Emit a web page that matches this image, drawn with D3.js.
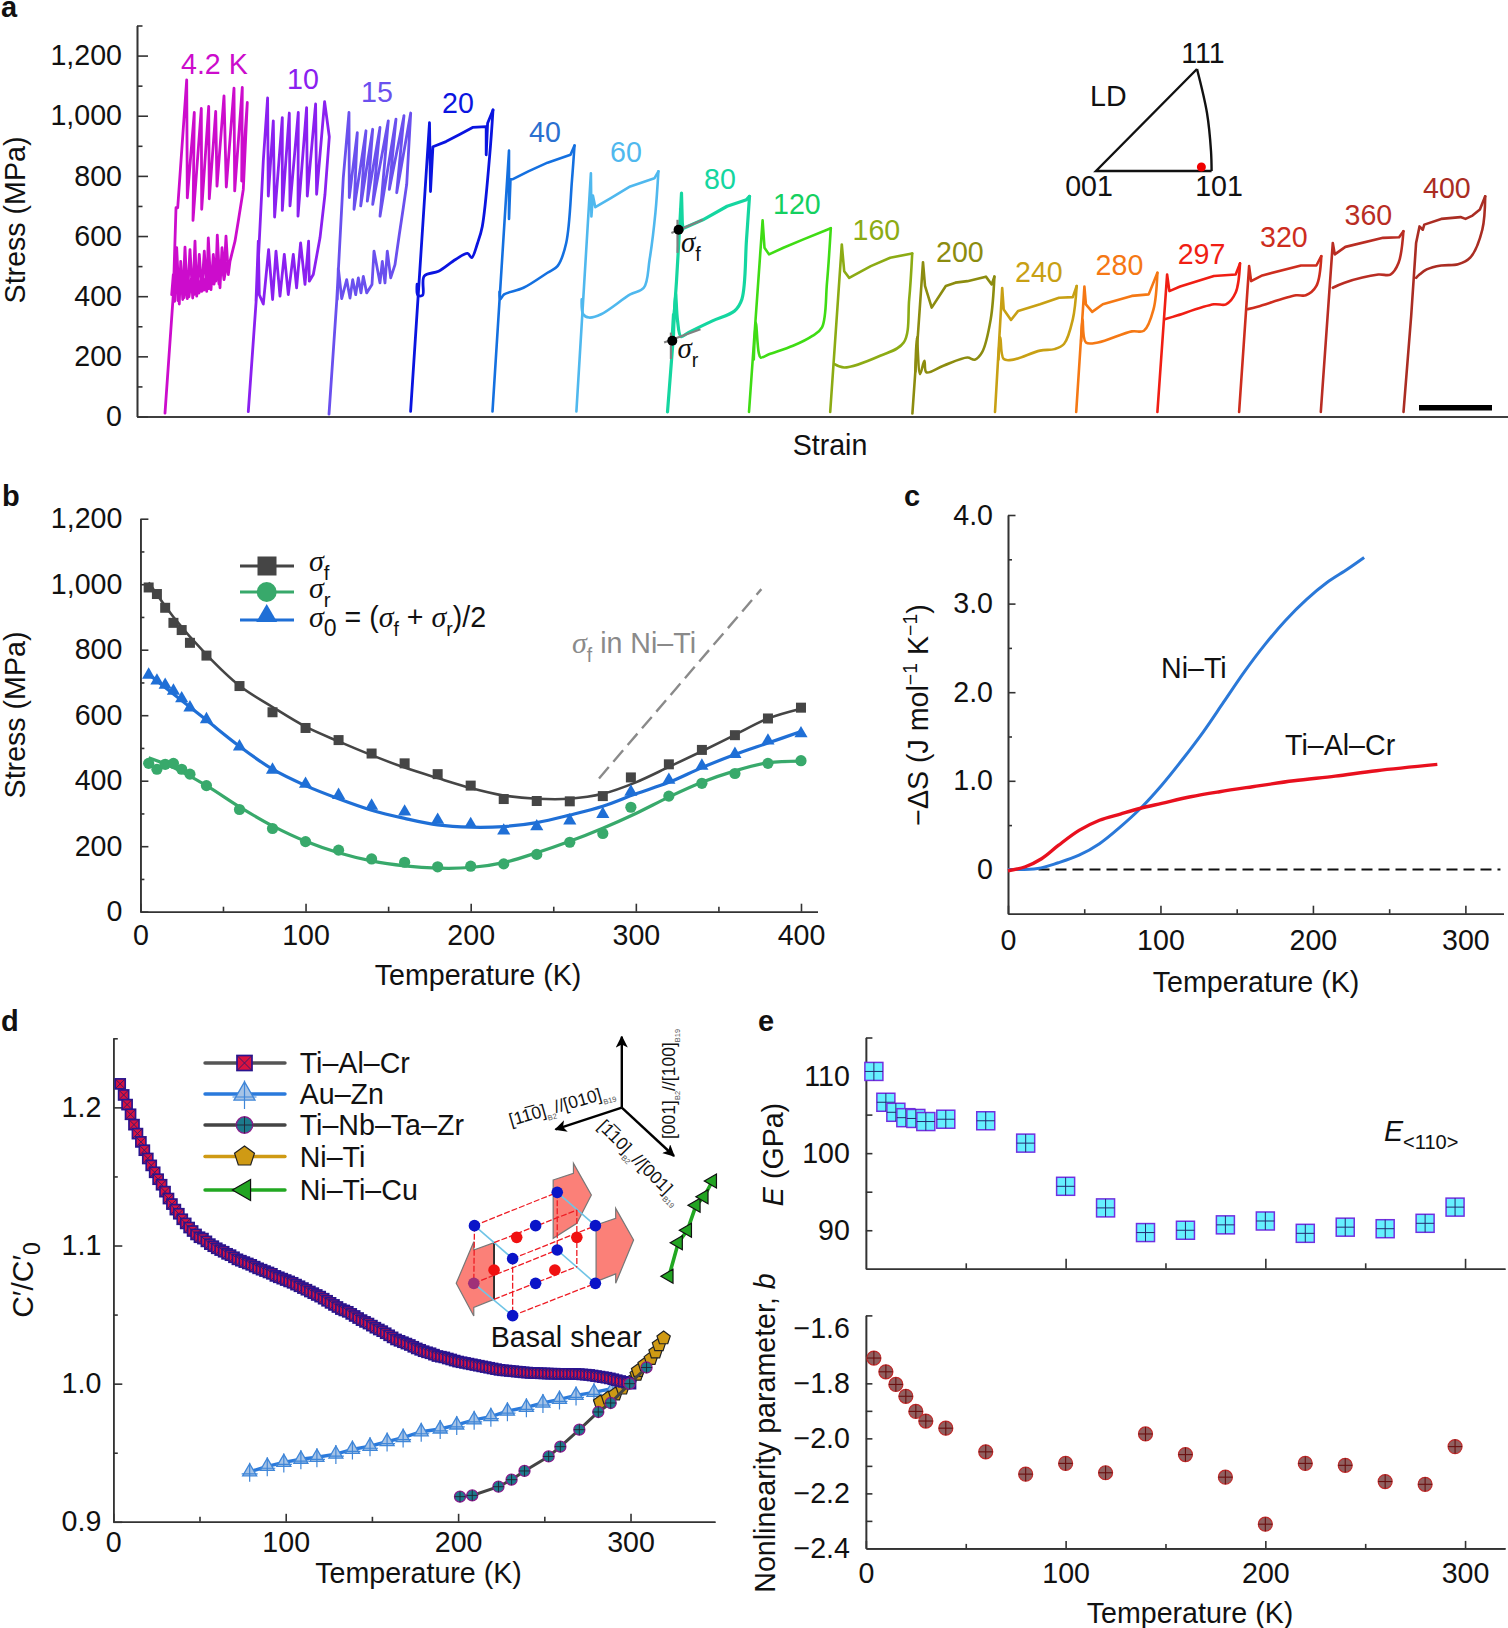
<!DOCTYPE html>
<html>
<head>
<meta charset="utf-8">
<script src="https://cdn.jsdelivr.net/npm/d3@7"></script>
<style>
  body { margin: 0; background: #fff; }
  text { font-family: "Liberation Sans", Arial, sans-serif; fill: #111; }
  .axis path, .axis line { stroke: #333; stroke-width: 1.6; }
  .axis text { font-family: "Liberation Sans", Arial, sans-serif; font-size: 28.6px; fill: #111; }
</style>
</head>
<body>
<div id="chart"></div>
<script>
/** DATA, panel a: strain (arbitrary units, the axis has no ticks) and stress (MPa) */
const loopLabels = ["4.2 K", "10", "15", "20", "40", "60", "80", "120", "160", "200", "240", "280", "297", "320", "360", "400"];
const loopColors = ["#cc0ccc", "#8a20f0", "#6a50ee", "#0a14e0", "#1470e0", "#4fb8ee", "#14d6a0", "#3fdc14", "#8cab14", "#8c8c0f", "#c8a014", "#f57814", "#f01e14", "#cd2d1e", "#b92d23", "#aa2d23"];
const labelColors = ["#cc0ccc", "#8a20f0", "#6a50ee", "#0a14e0", "#2a70d0", "#4fb8ee", "#14d6a0", "#14d060", "#8cab14", "#8c8c0f", "#c8a014", "#f57814", "#f01e14", "#cd2d1e", "#b92d23", "#aa2d23"];
const loopStart = [28, 111.3, 192, 273.6, 355.5, 439.4, 530.5, 612, 693.2, 775.4, 858, 939.2, 1020.4, 1102.1, 1183.8, 1266.5];

const curve4K = [[0,11],[8.3,405],[11,694],[12.7,694],[21.7,1119],[22.3,727],[29.3,1011],[28,652],[36.3,1024],[36.7,689],[43.7,1031],[44.3,724],[50.7,1014],[52,766],[59,1066],[61.3,763],[69,1092],[69.7,750],[77.3,1094],[76.7,783],[82.3,1044],[78.3,755],[73.3,650],[70,583],[65,516],[63.3,472],[61,600],[59,472],[57,561],[55,428],[52.3,603],[50.7,450],[48.3,539],[46,422],[43.3,594],[41.7,416],[39.3,550],[36.7,416],[34.3,539],[31.7,400],[30,583],[27.7,394],[25,555],[22.3,392],[20,563],[17.7,389],[15.7,516],[14.3,374],[11.7,561],[9.7,383],[8.3,472],[6.7,405],[12,500],[13,385],[16,470],[19,395],[22,470],[24,398],[27,475],[29,405],[32,480],[34,410],[37,485],[39,420],[42,490],[44,425],[47,495],[49,440],[52,500],[54,440],[57,505],[59,455],[62,510]];
const curve10 = [[0,16],[8.3,405],[15,850],[19.3,1059],[20,733],[25,983],[26.3,663],[34,994],[34,685],[41,1009],[41.7,700],[50,1011],[49.7,666],[58.3,1027],[59,733],[67.3,1039],[68.3,739],[76.3,1047],[81,930],[76.7,739],[71.7,594],[65,472],[61,450],[60.3,583],[56.7,439],[52.3,577],[48.3,428],[45,539],[40,405],[36,539],[31.7,400],[27.7,550],[24.3,389],[20.3,555],[15,374],[11,405],[10,583],[7.7,383]];
const curve15 = [[0,8],[7.7,383],[14.3,794],[20,1011],[20.3,728],[28.3,944],[25,689],[37,950],[31.7,700],[43.7,955],[38.3,716],[51,961],[43.7,705],[59.3,983],[51,666],[67,989],[60.3,755],[75,1000],[67.7,744],[81.7,1009],[77.7,772],[74.3,694],[70.3,605],[66,505],[61.7,461],[58.3,550],[56,444],[53.3,516],[51,444],[45,550],[43,439],[37.7,411],[34.3,466],[32,411],[29.3,461],[26.7,405],[23.7,455],[21,394],[17.7,455],[12.7,392],[9.3,494],[8.3,389]];
const curve20 = [[0,17],[18.9,977],[19.9,748],[22.3,897],[35.4,914],[49.9,939],[62,961],[75.6,964],[75.6,870],[77,975],[82.4,1019],[79,864],[71.7,632],[67,577],[61,528],[57,542],[45,522],[28,483],[13.6,467],[12,403],[7.3,403],[6.5,440]];
const curve40 = [[0,17],[16.5,884],[16.5,657],[18,789],[20.4,789],[35.8,815],[55,844],[74.4,866],[78,870],[82,901],[79.5,787],[73.7,577],[65,500],[55,478],[31,428],[11.6,406],[7.8,390],[7,415]];
const curve60 = [[0,17],[14.5,809],[15,665],[16.5,735],[18.9,696],[34.4,726],[53.8,765],[78,792],[82,815],[79,677],[73.2,522],[67.4,428],[53.8,406],[24.7,340],[12.6,329],[6.8,340],[5.3,390]];
const curve80 = [[0,15],[5.5,250],[6,340],[4.5,255],[6.5,330],[9,450],[12,620],[14,743],[15,621],[13,690],[15.5,625],[35.4,654],[59.6,699],[79,721],[82,732],[79,588],[74.4,390],[67,351],[45,318],[20.8,279],[13.5,266],[10,320],[8,410],[6,270]];
const curve120 = [[0,15],[13.6,652],[15.5,561],[20,539],[34.4,561],[53.8,588],[81.8,626],[78,445],[73,296],[63.4,268],[44,235],[20,207],[11.6,196],[9.7,213],[6.8,312],[4.8,190]];
const curve160 = [[0,15],[11.6,572],[14,483],[19,461],[40.6,500],[60,528],[82,542],[79,390],[73.5,246],[50,202],[14,163],[4.3,174]];
const curve200 = [[0,10],[10.6,513],[12.6,434],[19.3,362],[33.4,434],[43,445],[55,450],[73.5,465],[79.3,439],[82,465],[78.3,323],[69.6,213],[62.3,189],[55,196],[31,169],[14,147],[12,185],[7.7,141],[4.4,263],[3,150]];
const curve240 = [[0,15],[7.2,427],[8.7,356],[16,321],[23.2,351],[45,373],[64,395],[77.8,397],[81.7,434],[77.8,323],[69,241],[59.5,224],[45,219],[18.4,189],[8.7,191],[5.3,263],[3.5,190]];
const curve280 = [[0,15],[8.2,432],[9.7,373],[16,348],[26.6,373],[55.6,401],[72.5,406],[81.2,478],[77.3,356],[67.7,285],[55.6,283],[21.7,246],[9.7,246],[6.3,323],[5,250]];
const curve297 = [[0,15],[9.7,472],[12,417],[22.7,432],[56.5,467],[78.3,472],[82.6,509],[78.3,412],[68.6,373],[56.5,373],[18,334],[7.2,323]];
const curve320 = [[0,15],[10,500],[12,450],[23.2,469],[61.9,502],[77.3,502],[82.2,533],[77.3,434],[66.7,403],[57,403],[18.4,365],[8.7,357]];
const curve360 = [[0,15],[12,577],[14,539],[24.6,564],[62.3,594],[78.3,596],[82.6,616],[77.8,511],[69.6,472],[57.5,472],[23.7,445],[12,428]];
const curve400 = [[0,15],[7.7,335],[12.6,577],[16,632],[19.3,621],[20.8,638],[37.7,657],[57,663],[62,657],[69,668],[76.4,688],[81.7,732],[78.8,621],[66.7,528],[54.6,506],[37.7,502],[23.2,489],[16,472],[12.6,461]];
const allCurves = [curve4K, curve10, curve15, curve20, curve40, curve60, curve80, curve120, curve160, curve200, curve240, curve280, curve297, curve320, curve360, curve400];

const tangentF = [[[3.9,610],[35.4,654]], [[10,654],[10,544]]];
const tangentR = [[[-3.4,246],[33,290]], [[3.4,279],[3.4,191]]];
const sigmaPoints = [[11.1,621], [4.8,252]];

/** DATA, panel b */
const tempB = [5,10,15,20,25,30,40,60,80,100,120,140,160,180,200,220,240,260,280,297,320,340,360,380,400];
const sigmaF = [990,970,928,882,860,821,782,689,609,561,524,483,453,420,385,344,338,337,353,410,450,494,539,590,623];
const sigma0 = [723,705,692,674,651,623,587,504,433,390,356,323,305,280,267,247,260,278,298,366,402,445,481,522,544];
const sigmaR = [453,435,450,453,435,420,385,312,254,214,188,161,151,137,139,146,175,212,239,319,353,392,422,453,461];
const fitT = [5,20,40,60,80,100,120,140,160,180,200,220,240,260,280,300,320,340,360,380,400];
const fitF = [1005,900,785,690,625,565,520,478,440,408,378,355,345,345,360,395,442,490,540,590,620];
const fit0 = [725,665,585,505,435,385,345,310,285,265,258,260,272,295,322,360,395,440,480,515,550];
const fitR = [470,440,385,320,262,215,180,155,140,133,135,150,180,215,255,300,350,395,430,455,460];
const niTiStress = [[277.7,407],[376,985]];

/** DATA, panel c */
const entropyNiTi = [[0,0],[19.5,0.01],[33,0.075],[46.6,0.16],[60,0.29],[73.7,0.48],[87,0.69],[100.8,0.95],[114.4,1.24],[128,1.55],[141.5,1.89],[155,2.23],[168.6,2.54],[182,2.81],[195.7,3.045],[209,3.235],[222.8,3.39],[233.6,3.52]];
const entropyTiAlCr = [[0,-0.015],[11.4,0.03],[22,0.12],[33,0.27],[46.6,0.44],[60,0.555],[73.7,0.625],[87,0.69],[100.8,0.745],[119.8,0.82],[138.8,0.877],[160.4,0.933],[187.5,1.0],[214.6,1.053],[241.7,1.114],[281.6,1.185]];

/** DATA, panel d */
const tiAlCr = [[4,1.217],[6,1.209],[8,1.202],[10,1.195],[12,1.1875],[14,1.181],[16,1.175],[18,1.169],[20,1.163],[22,1.158],[24,1.153],[26,1.148],[28,1.144],[30,1.139],[32,1.134],[34,1.130],[36,1.126],[38,1.123],[40,1.119],[42,1.116],[44,1.113],[46,1.1105],[48,1.108],[50,1.106],[52,1.105],[54,1.103],[56,1.101],[58,1.0995],[60,1.098],[62,1.0967],[64,1.0955],[66,1.094],[68,1.093],[70,1.0915],[72,1.090],[74,1.089],[76,1.088],[78,1.087],[80,1.086],[82,1.0847],[84,1.0835],[86,1.0825],[88,1.0815],[90,1.0805],[92,1.0795],[94,1.078],[96,1.077],[98,1.076],[100,1.075],[102,1.074],[104,1.073],[106,1.0717],[108,1.0705],[110,1.0692],[112,1.068],[114,1.0667],[116,1.0655],[118,1.0642],[120,1.063],[122,1.0615],[124,1.060],[126,1.0585],[128,1.057],[130,1.0555],[132,1.054],[134,1.053],[136,1.052],[138,1.0505],[140,1.049],[142,1.0475],[144,1.046],[146,1.0447],[148,1.0435],[150,1.042],[152,1.0405],[154,1.0392],[156,1.038],[158,1.0365],[160,1.035],[162,1.0335],[164,1.032],[166,1.031],[168,1.030],[170,1.029],[172,1.028],[174,1.0267],[176,1.0255],[178,1.0245],[180,1.0235],[182,1.0227],[184,1.022],[186,1.021],[188,1.020],[190,1.0195],[192,1.019],[194,1.0182],[196,1.0175],[198,1.0167],[200,1.016],[202,1.0155],[204,1.015],[206,1.0145],[208,1.014],[210,1.0135],[212,1.013],[214,1.0125],[216,1.012],[218,1.0115],[220,1.011],[222,1.0105],[224,1.010],[226,1.0097],[228,1.0095],[230,1.0092],[232,1.009],[234,1.0087],[236,1.0085],[238,1.0082],[240,1.008],[242,1.0078],[244,1.0077],[246,1.0076],[248,1.0075],[250,1.0074],[252,1.0073],[254,1.0072],[256,1.0072],[258,1.0071],[260,1.0071],[262,1.0071],[264,1.0071],[266,1.007],[268,1.007],[270,1.0069],[272,1.0067],[274,1.0065],[276,1.0063],[278,1.0059],[280,1.0055],[282,1.0051],[284,1.0047],[286,1.0043],[288,1.0038],[290,1.0032],[292,1.0025],[294,1.0019],[296,1.0013],[298,1.0006],[300,1.0]];
const tempAuZn = [79.1,89.3,98.9,108.8,118.1,129.1,138.7,148.9,158.8,168.1,178.6,189.6,199.2,209.3,219,228.6,239.6,249.2,258.8,268.4,278.8,289.8];
const modAuZn = [0.9362,0.9402,0.9430,0.9453,0.9467,0.9490,0.9524,0.9547,0.9581,0.9610,0.9652,0.9672,0.9701,0.9738,0.9761,0.9801,0.9829,0.9860,0.9886,0.9915,0.9937,0.9966];
const tempTiNb = [201.1,208.2,223.4,231,238.5,252.5,259.3,270.3,281.3,288.5,299.5,309.3];
const modTiNb = [0.9182,0.9191,0.9254,0.9305,0.9368,0.9473,0.9544,0.9667,0.9795,0.9860,1.0,1.0117];
const tempNiTi = [282.4,287,291.2,295.3,299.5,303.6,304.4,308.2,311.8,314.5,316.5,319.2];
const modNiTi = [0.9866,0.9895,0.9923,0.9966,1.0009,1.0066,1.0094,1.0137,1.018,1.0228,1.028,1.033];
const tempNiTiCu = [322.3,327.7,333,338,342.6,347.5];
const modNiTiCu = [1.0778,1.1020,1.1111,1.1291,1.1353,1.1467];
const legendD = ["Ti–Al–Cr", "Au–Zn", "Ti–Nb–Ta–Zr", "Ni–Ti", "Ni–Ti–Cu"];

/** DATA, panel e */
const tempE = [4,10,15,20,25,30,40,60,80,100,120,140,160,180,200,220,240,260,280,295];
const modulusE = [110.6,106.6,105.3,104.6,104.5,104.1,104.4,104.2,101.3,95.7,92.9,89.7,90,90.7,91.2,89.6,90.4,90.2,90.9,93];
const nonlinearB = [-1.708,-1.758,-1.804,-1.847,-1.902,-1.937,-1.963,-2.049,-2.13,-2.091,-2.125,-1.984,-2.059,-2.141,-2.312,-2.091,-2.098,-2.157,-2.167,-2.03];

/** SCHEMATIC in panel d, in its own drawing units */
const pinkShapes = [
  [[335,480],[395,460],[395,430],[448,525],[405,610],[335,655]],
  [[462,615],[520,595],[520,565],[573,660],[520,790],[520,762],[462,785]],
  [[100,690],[160,668],[160,838],[100,862],[100,888],[48,790],[100,665]]
];
const redEdges = [[[102,617],[347,517]],[[215,716],[460,617]],[[100,790],[347,690]],[[215,887],[460,790]],[[102,617],[100,790]],[[215,716],[215,887]],[[347,517],[347,690]],[[405,570],[405,740]],[[160,668],[405,570]],[[160,838],[405,740]]];
const blueEdges = [[[102,617],[215,716]],[[347,517],[460,617]],[[100,790],[215,887]],[[347,690],[460,790]]];
const blueAtoms = [[347,517],[102,617],[460,617],[215,716],[347,690],[283,617],[283,790],[460,790],[215,887],[100,790]];
const redAtoms = [[227,652],[405,652],[160,750],[340,750]];
const triangleSide = [[1197,69],[1207,113],[1211,151],[1211.6,171]];
const triangleBase = [[1197,69],[1096,171],[1211.6,171]];

/** CONSTANTS */
const width = 1508, height = 1628;
const serif = '"Liberation Serif", "Times New Roman", serif';
const fontSize = 28.6;

const svg = d3.select("#chart").append("svg")
  .attr("width", width).attr("height", height)
  .style("display", "block");

/** HELPERS */
function leftAxis(x, scale, majors, minors, fmt, pad, majLen, minLen) {
  const g = svg.append("g").attr("class", "axis").attr("transform", `translate(${x},0)`);
  g.call(d3.axisLeft(scale).tickValues(majors).tickFormat(fmt).tickSize(-majLen).tickSizeOuter(0).tickPadding(pad));
  g.append("g").call(d3.axisLeft(scale).tickValues(minors).tickFormat("").tickSize(-minLen).tickSizeOuter(0));
  return g;
}
function bottomAxis(y, scale, majors, minors, fmt, pad, majLen, minLen) {
  const g = svg.append("g").attr("class", "axis").attr("transform", `translate(0,${y})`);
  g.call(d3.axisBottom(scale).tickValues(majors).tickFormat(fmt).tickSize(-majLen).tickSizeOuter(0).tickPadding(pad));
  g.append("g").call(d3.axisBottom(scale).tickValues(minors).tickFormat("").tickSize(-minLen).tickSizeOuter(0));
  return g;
}
// mixed text with italics, subscripts and superscripts
function rich(parent, x, y, size, parts, opt = {}) {
  const t = parent.append("text")
    .attr("transform", `translate(${x},${y}) rotate(${opt.rotate || 0})`)
    .style("font-size", size + "px")
    .attr("text-anchor", opt.anchor || "start");
  if (opt.fill) t.style("fill", opt.fill);
  let cur = 0;
  parts.forEach(p => {
    const o = typeof p === "string" ? { t: p } : p;
    const shift = o.sub ? size * (o.low || 0.3) : o.sup ? -size * 0.38 : 0;
    const sp = t.append("tspan").attr("dy", shift - cur).text(o.t);
    sp.style("font-size", (o.size || ((o.sub || o.sup) ? size * 0.68 : size)) + "px");
    if (o.sigma) sp.style("font-family", serif).style("font-style", "italic");
    if (o.i) sp.style("font-style", "italic");
    if (o.fill) sp.style("fill", o.fill);
    cur = shift;
  });
  return t;
}
function plain(x, y, txt, opt = {}) {
  const t = svg.append("text").attr("transform", `translate(${x},${y}) rotate(${opt.rotate || 0})`)
    .attr("text-anchor", opt.anchor || "middle").style("font-size", (opt.size || fontSize) + "px").text(txt);
  if (opt.fill) t.style("fill", opt.fill);
  if (opt.weight) t.style("font-weight", opt.weight);
  return t;
}
const sym = (type, size) => d3.symbol().type(type).size(size)();
const pentagon = { draw(ctx, size) {
  const r = Math.sqrt(size);
  d3.range(5).forEach(i => {
    const a = -Math.PI / 2 + i * 2 * Math.PI / 5;
    if (i === 0) ctx.moveTo(r * Math.cos(a), r * Math.sin(a)); else ctx.lineTo(r * Math.cos(a), r * Math.sin(a));
  });
  ctx.closePath();
} };
function crossHair(g, r, color, w) {
  g.append("line").attr("x1", -r).attr("x2", r).attr("stroke", color).attr("stroke-width", w);
  g.append("line").attr("y1", -r).attr("y2", r).attr("stroke", color).attr("stroke-width", w);
}

// marker drawers for panel d, k makes the legend copy bigger
const markerTiAlCr = (g, k) => {
  const s = 10 * k;
  g.append("rect").attr("x", -s / 2).attr("y", -s / 2).attr("width", s).attr("height", s)
    .attr("fill", "#d9123f").attr("stroke", "#2a1490").attr("stroke-width", 1.7);
  g.append("path").attr("d", `M${-s/2},${-s/2}L${s/2},${s/2}M${-s/2},${s/2}L${s/2},${-s/2}`).attr("stroke", "#2a1a70").attr("stroke-width", 0.9);
};
const markerAuZn = (g, k) => {
  g.append("path").attr("d", sym(d3.symbolTriangle, 85 * k * k)).attr("fill", "#a6c3e6").attr("stroke", "#3f86d8").attr("stroke-width", 1.3);
  g.append("path").attr("d", `M0,${-9 * k}V${10 * k}M${-8 * k},${2 * k}H${8 * k}`).attr("stroke", "#3f86d8").attr("stroke-width", 1.2);
};
const markerTiNb = (g, k) => {
  g.append("circle").attr("r", 5.5 * k).attr("fill", "#1c7a8c").attr("stroke", "#8a1c8c").attr("stroke-width", 1.3);
  crossHair(g, 5.5 * k, "#223", 0.9);
};
const markerNiTi = (g, k) => {
  g.append("path").attr("d", d3.symbol().type(pentagon).size(49 * k * k)()).attr("fill", "#cf9a14").attr("stroke", "#222").attr("stroke-width", 1.2);
};
const markerNiTiCu = (g, k) => {
  g.append("path").attr("d", sym(d3.symbolTriangle, 85 * k * k)).attr("transform", "rotate(-90)").attr("fill", "#22a422").attr("stroke", "#111").attr("stroke-width", 1.2);
};

/** PANEL LETTERS */
[["a", 1, 17], ["b", 2, 506], ["c", 904, 506], ["d", 1, 1031], ["e", 758, 1031]].forEach(d =>
  plain(d[1], d[2], d[0], { anchor: "start", weight: "bold", size: 29 }));

/** PANEL A */
const xA = d3.scaleLinear().domain([0, 1371]).range([137, 1508]);
const yA = d3.scaleLinear().domain([0, 1300]).range([416.5, 25.5]);
leftAxis(137, yA, [0, 200, 400, 600, 800, 1000, 1200], [100, 300, 500, 700, 900, 1100, 1300], d3.format(","), 15, 11, 5.5);
bottomAxis(416.5, xA, [], [], "", 0, 0, 0);

// forward branch has hard corners, the return branch from the tip is rounded
const smooth = d3.line().curve(d3.curveCatmullRom.alpha(0.5)).x(d => d[0]).y(d => yA(d[1]));
const sharp = d3.line().x(d => d[0]).y(d => yA(d[1]));
allCurves.forEach((curve, i) => {
  const pts = curve.map(d => [xA(loopStart[i] + d[0]), d[1]]);
  const tip = d3.greatestIndex(curve, d => d[0]);
  const parts = i < 3 ? [[sharp, pts]] : [[sharp, pts.slice(0, tip + 1)], [smooth, pts.slice(tip)]];
  parts.forEach(p => {
    svg.append("path")
      .attr("d", p[0](p[1]))
      .attr("fill", "none")
      .attr("stroke", loopColors[i])
      .attr("stroke-width", i === 6 ? 3.2 : i < 4 ? 2.8 : 2.6)
      .attr("stroke-linejoin", "round")
      .attr("stroke-linecap", "round");
  });
});

const labelLeft = [181, 287, 361, 442, 529, 610, 704, 773, 852.5, 936, 1015, 1095.6, 1177.7, 1260, 1344.5, 1423];
const labelBase = [73.5, 88.7, 101.7, 113, 141.7, 162, 188.7, 213.6, 240, 262, 282, 275, 264, 246.7, 225, 197.7];
loopLabels.forEach((d, i) => plain(labelLeft[i], labelBase[i], d, { anchor: "start", fill: labelColors[i] }));

// tangents and the two marked stresses on the 80 K loop
tangentF.concat(tangentR).forEach(seg => {
  svg.append("line")
    .attr("x1", xA(loopStart[6] + seg[0][0])).attr("y1", yA(seg[0][1]))
    .attr("x2", xA(loopStart[6] + seg[1][0])).attr("y2", yA(seg[1][1]))
    .attr("stroke", "#808080").attr("stroke-width", 2.2);
});
svg.selectAll(".sigma-pt").data(sigmaPoints).join("circle")
  .attr("cx", d => xA(loopStart[6] + d[0])).attr("cy", d => yA(d[1])).attr("r", 5).attr("fill", "#000");
rich(svg, 681, 252, 29, [{ t: "σ", sigma: true }, { t: "f", sub: true }]);
rich(svg, 677.5, 358, 29, [{ t: "σ", sigma: true }, { t: "r", sub: true }]);

plain(25, 220, "Stress (MPa)", { rotate: -90 });
plain(830, 455, "Strain");

// scale bar
svg.append("rect").attr("x", xA(1282)).attr("y", 405).attr("width", xA(1355) - xA(1282)).attr("height", 5.5).attr("fill", "#000");

// stereographic triangle
svg.append("path").attr("d", d3.line().curve(d3.curveCatmullRom)(triangleSide)).attr("fill", "none").attr("stroke", "#111").attr("stroke-width", 2.4);
svg.append("path").attr("d", d3.line()(triangleBase)).attr("fill", "none").attr("stroke", "#111").attr("stroke-width", 2.4);
svg.append("circle").attr("cx", 1201.4).attr("cy", 167).attr("r", 4.5).attr("fill", "#f00000");
plain(1203, 63, "111");
plain(1090, 105.5, "LD", { anchor: "start" });
plain(1089, 196, "001");
plain(1219, 196, "101");

/** PANEL B */
const xB = d3.scaleLinear().domain([0, 410]).range([140.4, 817.5]);
const yB = d3.scaleLinear().domain([0, 1200]).range([911.7, 518.7]);
leftAxis(140.4, yB, [0, 200, 400, 600, 800, 1000, 1200], [100, 300, 500, 700, 900, 1100], d3.format(","), 18, 8, 4);
bottomAxis(911.7, xB, [0, 100, 200, 300, 400], [50, 150, 250, 350], d3.format("d"), 13, 8, 5);

const lineB = d3.line().curve(d3.curveCatmullRom).x(d => xB(d[0])).y(d => yB(d[1]));
const bColors = { f: "#454545", r: "#38a96b", o: "#1f6fd6" };
[[fitF, bColors.f, 2.6], [fitR, bColors.r, 3.2], [fit0, bColors.o, 3.2]].forEach(s => {
  svg.append("path").attr("d", lineB(fitT.map((t, i) => [t, s[0][i]]))).attr("fill", "none").attr("stroke", s[1]).attr("stroke-width", s[2]);
});
svg.selectAll(".f").data(tempB).join("rect")
  .attr("x", d => xB(d) - 5).attr("y", (d, i) => yB(sigmaF[i]) - 5).attr("width", 10).attr("height", 10).attr("fill", bColors.f);
svg.selectAll(".r").data(tempB).join("circle")
  .attr("cx", d => xB(d)).attr("cy", (d, i) => yB(sigmaR[i])).attr("r", 5.6).attr("fill", bColors.r);
svg.selectAll(".o").data(tempB).join("path")
  .attr("d", sym(d3.symbolTriangle, 75))
  .attr("transform", (d, i) => `translate(${xB(d)},${yB(sigma0[i])})`).attr("fill", bColors.o);

// legend b
[[566, bColors.f], [592, bColors.r], [620, bColors.o]].forEach(d =>
  svg.append("line").attr("x1", 240).attr("x2", 294).attr("y1", d[0]).attr("y2", d[0]).attr("stroke", d[1]).attr("stroke-width", 3.2));
svg.append("rect").attr("x", 257.5).attr("y", 556.5).attr("width", 19).attr("height", 19).attr("fill", bColors.f);
svg.append("circle").attr("cx", 266.7).attr("cy", 592).attr("r", 10).attr("fill", bColors.r);
svg.append("path").attr("d", sym(d3.symbolTriangle, 190)).attr("transform", "translate(266.7,616)").attr("fill", bColors.o);
rich(svg, 309, 571, 30, [{ t: "σ", sigma: true }, { t: "f", sub: true }]);
rich(svg, 309, 598, 30, [{ t: "σ", sigma: true }, { t: "r", sub: true }]);
rich(svg, 309, 627, 28.6, [{ t: "σ", sigma: true, size: 30 }, { t: "0", sub: true, size: 23 }, " = (", { t: "σ", sigma: true, size: 30 }, { t: "f", sub: true }, " + ", { t: "σ", sigma: true, size: 30 }, { t: "r", sub: true }, ")/2"]);

svg.append("line")
  .attr("x1", xB(niTiStress[0][0])).attr("y1", yB(niTiStress[0][1]))
  .attr("x2", xB(niTiStress[1][0])).attr("y2", yB(niTiStress[1][1]))
  .attr("stroke", "#8a8a8a").attr("stroke-width", 2.4).attr("stroke-dasharray", "15 7");
rich(svg, 572, 653, 28.6, [{ t: "σ", sigma: true, size: 30 }, { t: "f", sub: true }, " in Ni–Ti"], { fill: "#8a8a8a" });

plain(25, 715, "Stress (MPa)", { rotate: -90 });
plain(478, 985, "Temperature (K)");

/** PANEL C */
const xC = d3.scaleLinear().domain([0, 325]).range([1008, 1503.5]);
const yC = d3.scaleLinear().domain([-0.5, 4]).range([913.7, 515]);
leftAxis(1008, yC, [0, 1, 2, 3, 4], [0.5, 1.5, 2.5, 3.5], d => d === 0 ? "0" : d3.format(".1f")(d), 15, 7.5, 4);
bottomAxis(913.7, xC, [0, 100, 200, 300], [50, 150, 250], d3.format("d"), 16, 8, 4.5);
const lineC = d3.line().curve(d3.curveCatmullRom).x(d => xC(d[0])).y(d => yC(d[1]));
svg.append("line").attr("x1", xC(20)).attr("x2", xC(323)).attr("y1", yC(0)).attr("y2", yC(0))
  .attr("stroke", "#111").attr("stroke-width", 2).attr("stroke-dasharray", "11 6");
svg.append("path").attr("d", lineC(entropyNiTi)).attr("fill", "none").attr("stroke", "#2a78d8").attr("stroke-width", 3);
svg.append("path").attr("d", lineC(entropyTiAlCr)).attr("fill", "none").attr("stroke", "#e8101e").attr("stroke-width", 3.4);
plain(1161, 678, "Ni–Ti", { anchor: "start" });
plain(1285, 755, "Ti–Al–Cr", { anchor: "start" });
rich(svg, 928, 715, fontSize, ["−ΔS (J mol", { t: "−1", sup: true }, " K", { t: "−1", sup: true }, ")"], { rotate: -90, anchor: "middle" });
plain(1256, 992, "Temperature (K)");

/** PANEL D */
const xD = d3.scaleLinear().domain([0, 349]).range([113.3, 715]);
const yD = d3.scaleLinear().domain([0.9, 1.25]).range([1521.8, 1038.3]);
leftAxis(113.3, yD, [0.9, 1.0, 1.1, 1.2], [0.95, 1.05, 1.15, 1.25], d3.format(".1f"), 12, 9, 4.5);
bottomAxis(1521.8, xD, [0, 100, 200, 300], [50, 150, 250], d3.format("d"), 10, 8, 5);

const seriesD = [
  { t: tempAuZn, v: modAuZn, line: "#2a7adc", w: 3.4, mark: markerAuZn },
  { t: tempNiTi, v: modNiTi, line: "#333", w: 2, mark: markerNiTi },
  { t: tiAlCr.map(d => d[0]), v: tiAlCr.map(d => d[1]), line: "#555", w: 2, mark: markerTiAlCr },
  { t: tempTiNb, v: modTiNb, line: "#444", w: 3, mark: markerTiNb },
  { t: tempNiTiCu, v: modNiTiCu, line: "#22a822", w: 3.6, mark: markerNiTiCu }
];
seriesD.forEach(s => {
  svg.append("path")
    .attr("d", d3.line().x(d => xD(d)).y((d, i) => yD(s.v[i]))(s.t))
    .attr("fill", "none").attr("stroke", s.line).attr("stroke-width", s.w);
  s.t.forEach((t, i) => {
    s.mark(svg.append("g").attr("transform", `translate(${xD(t)},${yD(s.v[i])})`), 1);
  });
});

// legend d
const legendY = [1063, 1094, 1125, 1156.5, 1190];
const legendLine = ["#555", "#2a7adc", "#444", "#cf9a14", "#22a822"];
const legendMark = [markerTiAlCr, markerAuZn, markerTiNb, markerNiTi, markerNiTiCu];
legendD.forEach((d, i) => {
  svg.append("line").attr("x1", 205).attr("x2", 285).attr("y1", legendY[i]).attr("y2", legendY[i])
    .attr("stroke", legendLine[i]).attr("stroke-width", 3.4).attr("stroke-linecap", "round");
  legendMark[i](svg.append("g").attr("transform", `translate(244.5,${legendY[i]})`), 1.5);
  plain(299.7, legendY[i] + 10, d, { anchor: "start" });
});

rich(svg, 33, 1280, 30, ["C′/C′", { t: "0", sub: true, size: 23, low: 0.22 }], { rotate: -90, anchor: "middle" });
plain(418.5, 1583, "Temperature (K)");

// crystal schematic
const ix = d3.scaleLinear().domain([0, 280 * 2.96]).range([440, 720]);
const iy = d3.scaleLinear().domain([0, 340 * 3]).range([1020, 1360]);
const inset = svg.append("g");
const insetPt = d => [ix(d[0]), iy(d[1])];
pinkShapes.forEach(p => inset.append("path").attr("d", d3.line()(p.map(insetPt)) + "Z")
  .attr("fill", "#fb8078").attr("stroke", "#777").attr("stroke-width", 1.2));
inset.append("line").attr("x1", ix(160)).attr("y1", iy(668)).attr("x2", ix(160)).attr("y2", iy(838)).attr("stroke", "#111").attr("stroke-width", 1.5);
blueEdges.forEach(e => inset.append("line")
  .attr("x1", ix(e[0][0])).attr("y1", iy(e[0][1])).attr("x2", ix(e[1][0])).attr("y2", iy(e[1][1]))
  .attr("stroke", "#6fc4e6").attr("stroke-width", 1.6));
redEdges.forEach(e => inset.append("line")
  .attr("x1", ix(e[0][0])).attr("y1", iy(e[0][1])).attr("x2", ix(e[1][0])).attr("y2", iy(e[1][1]))
  .attr("stroke", "#ee1c24").attr("stroke-width", 1.3).attr("stroke-dasharray", "6 2"));
redAtoms.forEach(d => inset.append("circle").attr("cx", ix(d[0])).attr("cy", iy(d[1])).attr("r", 5.8).attr("fill", "#f01010"));
blueAtoms.forEach((d, i) => inset.append("circle").attr("cx", ix(d[0])).attr("cy", iy(d[1])).attr("r", 5.8).attr("fill", i === 9 ? "#a03078" : "#0a14c8"));
plain(490.7, 1347, "Basal shear", { anchor: "start" });

// direction arrows
const defs = svg.append("defs");
defs.append("marker").attr("id", "head").attr("viewBox", "0 0 10 10").attr("refX", 9).attr("refY", 5)
  .attr("markerWidth", 5).attr("markerHeight", 5).attr("markerUnits", "strokeWidth").attr("orient", "auto")
  .append("path").attr("d", "M0,0L10,5L0,10L2.5,5Z").attr("fill", "#000");
[[621.8, 1036.7], [555.6, 1129.3], [674, 1156]].forEach(d =>
  inset.append("line").attr("x1", 621.8).attr("y1", 1107.7).attr("x2", d[0]).attr("y2", d[1])
    .attr("stroke", "#000").attr("stroke-width", 2.4).attr("marker-end", "url(#head)"));
const tiny = t => ({ t, sub: true, size: 7.5, low: 0.3, fill: "#555" });
rich(inset, 511, 1126, 17.5, ["[11\u03050]", tiny("B2"), "//[010]", tiny("B19")], { rotate: -16 });
rich(inset, 675, 1139, 17.5, ["[001]", tiny("B2"), "//[100]", tiny("B19")], { rotate: -90 });
rich(inset, 597, 1127, 17.5, ["[1\u030510]", tiny("B2"), "//[001]", tiny("B19")], { rotate: 45 });

/** PANEL E */
const xE = d3.scaleLinear().domain([0, 320]).range([865.9, 1505]);
const yE = d3.scaleLinear().domain([85, 115]).range([1268.8, 1037.5]);
const yE2 = d3.scaleLinear().domain([-2.4, -1.553]).range([1548.4, 1315.4]);
leftAxis(865.9, yE, [90, 100, 110], [95, 105, 115], d3.format("d"), 16, 6.5, 6.5);
bottomAxis(1268.8, xE, [100, 200, 300], [50, 150, 250], "", 0, 10, 5.5);
// the lower axis has its ticks off the labelled values at the top end
leftAxis(865.9, yE2, [-2.4, -2.2, -2.0, -1.8, -1.6], [-2.3, -2.2, -2.1, -2.0, -1.9, -1.8, -1.7, -1.553], d3.format(".1f"), 16, 0, 6.5);
bottomAxis(1548.4, xE, [0, 100, 200, 300], [50, 150, 250], d3.format("d"), 14, 7.5, 4.5);

tempE.forEach((t, i) => {
  const g = svg.append("g").attr("transform", `translate(${xE(t)},${yE(modulusE[i])})`);
  g.append("rect").attr("x", -9).attr("y", -9).attr("width", 18).attr("height", 18)
    .attr("fill", "#66f0ff").attr("stroke", "#7030e0").attr("stroke-width", 1.5);
  crossHair(g, 9, "#222a70", 1);
});
tempE.forEach((t, i) => {
  const g = svg.append("g").attr("transform", `translate(${xE(t)},${yE2(nonlinearB[i])})`);
  g.append("circle").attr("r", 7).attr("fill", "#8f6060").attr("stroke", "#c02a2a").attr("stroke-width", 1.2);
  crossHair(g, 7, "#6a1010", 1.1);
});
rich(svg, 1384, 1141, fontSize, [{ t: "E", i: true }, { t: "<110>", sub: true, size: 20, low: 0.28 }]);
rich(svg, 783, 1154.5, fontSize, [{ t: "E", i: true }, " (GPa)"], { rotate: -90, anchor: "middle" });
rich(svg, 775, 1433, fontSize, ["Nonlinearity parameter, ", { t: "b", i: true }], { rotate: -90, anchor: "middle" });
plain(1190, 1622.6, "Temperature (K)");
</script>
</body>
</html>
